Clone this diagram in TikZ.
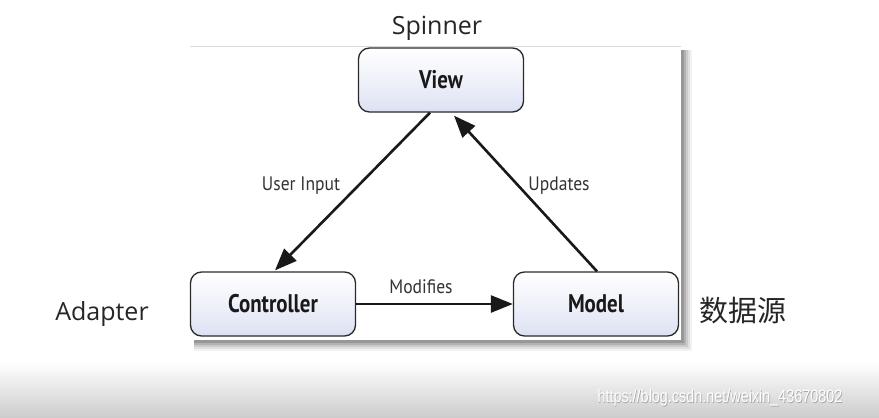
\documentclass[tikz,border=0pt]{standalone}
\usepackage{fontspec}
\setmainfont{Open Sans}
\newfontfamily\boxfont[FakeStretch=0.82]{PT Sans}
\newfontfamily\lblfont[FakeStretch=0.9]{PT Sans}
\newfontfamily\cjk{Noto Sans CJK SC}
\newfontfamily\wmfont[FakeStretch=0.8]{Liberation Sans}
\usetikzlibrary{arrows.meta}
\definecolor{boxblue}{HTML}{DCE1F3}
\definecolor{boxline}{HTML}{2A2A2A}
\begin{document}
\begin{tikzpicture}[x=1pt,y=-1pt,
  box/.style={rounded corners=11pt, draw=boxline, line width=1.3pt,
    minimum width=165pt, minimum height=64pt,
    top color=white, bottom color=boxblue, middle color=white!55!boxblue,
    font=\boxfont\bfseries\fontsize{25.5}{26}\selectfont, text=black!90},
  conn/.style={line width=2.6pt, draw=black!90, -{Triangle[length=22pt,width=17pt]}},
  lbl/.style={font=\lblfont\fontsize{19.5}{20}\selectfont, text=black!80, inner sep=0pt},
  side/.style={font=\fontsize{25}{25}\selectfont, text=black!85, inner sep=0pt}]
\useasboundingbox (0,0) rectangle (879,418);
% background
\fill[white] (0,0) rectangle (879,418);
\shade[top color=white, bottom color=black!20] (0,362) rectangle (879,418);
% panel shadow
\foreach \o/\op in {11/0.05,9/0.07,7/0.09,5/0.12,3/0.15}{
  \fill[black, opacity=\op] (194,50) rectangle (681+\o,340+\o);
}
\fill[white] (190,46) rectangle (681,340);
\draw[black!15, line width=0.8pt] (190,46) -- (681,46);
% nodes
\node[box] (view) at (441,80) {View};
\node[box] (ctrl) at (273,304) {Controller};
\node[box] (model) at (596,304) {Model};
% connectors
\draw[conn] ([xshift=-11pt]view.south) -- ([xshift=2pt,yshift=1pt]ctrl.north);
\draw[conn] ([xshift=1pt]model.north) -- ([xshift=13pt,yshift=-3pt]view.south);
\draw[conn] (ctrl.east) -- (model.west);
% labels
\node[lbl] (ui) at (301,186) {User Input};
\node[lbl] (up) at (559,186) {Updates};
\node[lbl] (mod) at (421,287) {Modifies};
\node[side] (spin) at (437,28) {Spinner};
\node[side] (adap) at (102,314) {Adapter};
\node[side, font=\cjk\fontsize{29}{29}\selectfont] (src) at (743,311) {数据源};
% watermark
\node[font=\wmfont\fontsize{18}{18}\selectfont, text=black!35, inner sep=0pt] (wm0) at (720.7,398.7) {https://blog.csdn.net/weixin\_43670802};
\node[font=\wmfont\fontsize{18}{18}\selectfont, text=white, inner sep=0pt] (wm) at (720,398) {https://blog.csdn.net/weixin\_43670802};
\end{tikzpicture}
\end{document}
